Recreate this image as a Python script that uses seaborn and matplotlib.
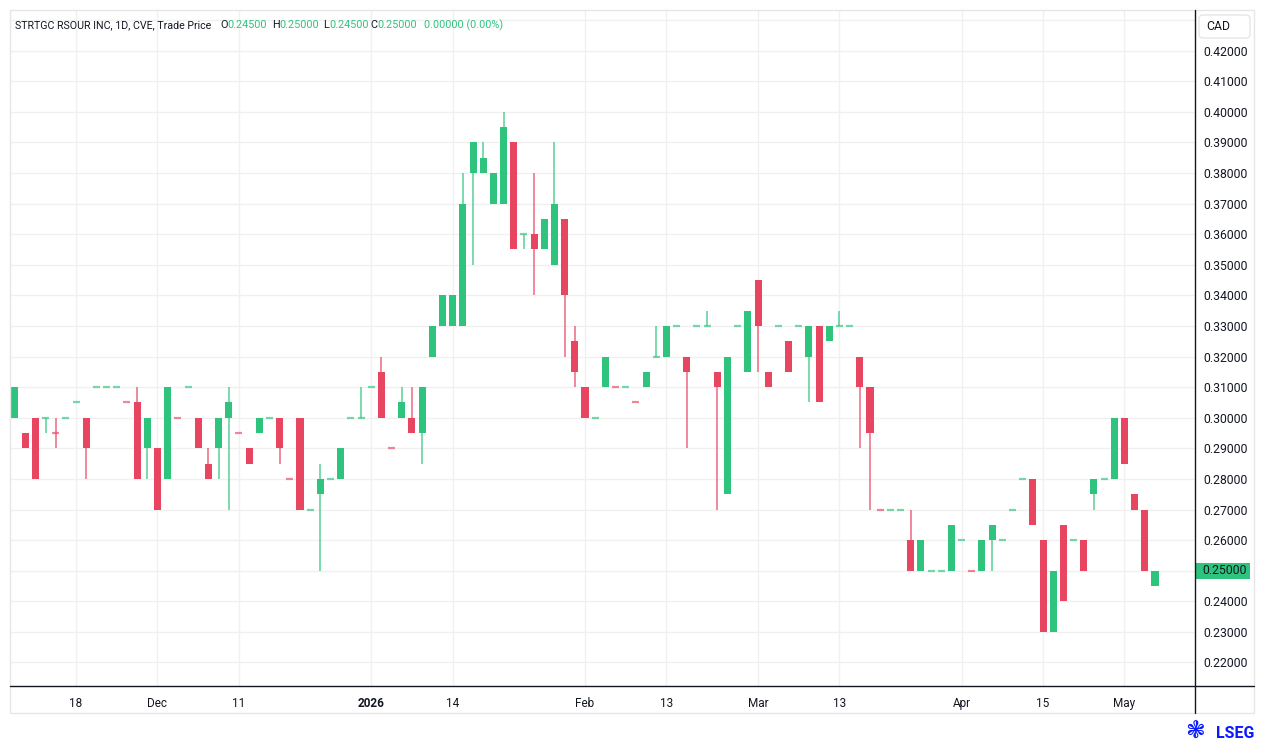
import numpy as np
import pandas as pd
import matplotlib
matplotlib.use("Agg")
import matplotlib.pyplot as plt
import matplotlib.transforms as mtransforms
from matplotlib.lines import Line2D
from matplotlib.patches import Rectangle, FancyBboxPatch
import seaborn as sns

# daily candles (CAD)
opens = [
    .30, .295, .30, .30, .295, .30, .305, .30, .31, .31,
    .31, .305, .305, .29, .29, .28, .30, .31, .30, .285,
    .29, .30, .295, .29, .295, .30, .30, .28, .30, .27,
    .275, .28, .28, .30, .30, .31, .315, .29, .30, .30,
    .295, .32, .33, .33, .33, .38, .38, .37, .37, .39,
    .36, .36, .355, .35, .365, .325, .31, .30, .31, .31,
    .31, .305, .31, .32, .32, .33, .32, .33, .33, .315,
    .275, .33, .315, .345, .315, .33, .325, .33, .32, .33,
    .325, .33, .33, .32, .31, .27, .27, .27, .26, .25,
    .25, .25, .25, .26, .25, .25, .26, .26, .27, .28,
    .28, .26, .23, .265, .26, .26, .275, .28, .28, .30,
    .275, .27, .245,
]
highs = [
    .31, .295, .30, .30, .30, .30, .305, .30, .31, .31,
    .31, .305, .31, .30, .29, .31, .30, .31, .30, .29,
    .30, .31, .295, .29, .30, .30, .30, .28, .30, .27,
    .285, .28, .29, .30, .31, .31, .32, .29, .31, .31,
    .31, .33, .34, .34, .38, .39, .39, .38, .40, .39,
    .36, .38, .365, .39, .365, .33, .31, .30, .32, .31,
    .31, .305, .315, .33, .33, .33, .32, .33, .335, .315,
    .32, .33, .335, .345, .315, .33, .325, .33, .33, .33,
    .33, .335, .33, .32, .31, .27, .27, .27, .27, .26,
    .25, .25, .265, .26, .25, .26, .265, .26, .27, .28,
    .28, .26, .25, .265, .26, .26, .28, .28, .30, .30,
    .275, .27, .25,
]
lows = [
    .30, .29, .28, .295, .29, .30, .305, .28, .31, .31,
    .31, .305, .28, .28, .27, .28, .30, .31, .29, .28,
    .28, .27, .295, .285, .295, .30, .285, .28, .27, .27,
    .25, .28, .28, .30, .30, .31, .30, .29, .30, .295,
    .285, .32, .33, .33, .33, .35, .38, .37, .37, .355,
    .355, .34, .355, .35, .32, .31, .30, .30, .31, .31,
    .31, .305, .31, .32, .32, .33, .29, .33, .33, .27,
    .275, .33, .315, .315, .31, .33, .315, .33, .305, .305,
    .325, .33, .33, .29, .27, .27, .27, .27, .25, .25,
    .25, .25, .25, .26, .25, .25, .25, .26, .27, .28,
    .265, .23, .23, .24, .26, .25, .27, .28, .28, .285,
    .27, .25, .245,
]
closes = [
    .31, .29, .28, .30, .295, .30, .305, .29, .31, .31,
    .31, .305, .28, .30, .27, .31, .30, .31, .29, .28,
    .30, .305, .295, .285, .30, .30, .29, .28, .27, .27,
    .28, .28, .29, .30, .30, .31, .30, .29, .305, .295,
    .31, .33, .34, .34, .37, .39, .385, .38, .395, .355,
    .36, .355, .365, .37, .34, .315, .30, .30, .32, .31,
    .31, .305, .315, .32, .33, .33, .315, .33, .33, .31,
    .32, .33, .335, .33, .31, .33, .315, .33, .33, .305,
    .33, .33, .33, .31, .295, .27, .27, .27, .25, .26,
    .25, .25, .265, .26, .25, .26, .265, .26, .27, .28,
    .265, .23, .25, .24, .26, .25, .28, .28, .30, .285,
    .27, .25, .25,
]
# flat candles that are drawn in red
red_flat = [4, 11, 16, 22, 27, 37, 59, 61, 85, 94]

tick_index = [6, 14, 22, 35, 43, 56, 64, 73, 81, 93, 101, 109]
tick_labels = ["18", "Dec", "11", "2026", "14", "Feb", "13", "Mar", "13", "Apr", "15", "May"]
price_ticks = [round(0.22 + 0.01 * i, 2) for i in range(21)]

GREEN = "#2ec47e"
RED = "#e84561"
TEXT = "#131722"
GRID = "#f0f0f0"
BLUE = "#0a1bff"

df = pd.DataFrame({"open": opens, "high": highs, "low": lows, "close": closes})
df["x"] = np.arange(len(df))
df["color"] = np.where(df["close"] > df["open"], GREEN, RED)
flat = df["close"] == df["open"]
df.loc[flat, "color"] = GREEN
df.loc[df.index.isin(red_flat), "color"] = RED

sns.set_theme(style="white")
plt.rcParams["font.family"] = ["Roboto", "DejaVu Sans"]

W, H = 1264, 744
fig = plt.figure(figsize=(W / 100, H / 100), dpi=100)
fig.patch.set_facecolor("white")


def fx(px):
    return px / W


def fy(py):
    return 1 - py / H


ax = fig.add_axes([fx(10), fy(686), fx(1195) - fx(10), fy(10) - fy(686)])
for s in ax.spines.values():
    s.set_visible(False)

# grid
for yv in price_ticks + [0.43]:
    ax.axhline(yv, color=GRID, lw=1, zorder=0)
for xv in tick_index:
    ax.axvline(xv, color=GRID, lw=1, zorder=0)

bw = 0.69
body = df[~flat]
doji = df[flat]

ax.vlines(df["x"], df["low"], df["high"], colors=df["color"], lw=1.1, alpha=0.8, zorder=2)
ax.bar(body["x"], (body["close"] - body["open"]).abs(),
       bottom=np.minimum(body["open"], body["close"]),
       width=bw, color=body["color"], edgecolor="none", zorder=3)
ax.hlines(doji["open"], doji["x"] - bw / 2, doji["x"] + bw / 2,
          colors=doji["color"], lw=1.6, alpha=0.65, zorder=3)

ax.set_xlim(-0.49, 115.93)
ax.set_ylim(0.21232, 0.43324)

ax.yaxis.tick_right()
ax.set_yticks(price_ticks)
ax.set_yticklabels([f"{v:.5f}" for v in price_ticks])
ax.tick_params(axis="y", length=0, pad=6, labelsize=8.8, labelcolor=TEXT)
for v, lab in zip(price_ticks, ax.get_yticklabels()):
    if abs(v - closes[-1]) < 1e-9:
        lab.set_visible(False)   # hidden under the price tag
ax.set_xticks(tick_index)
ax.set_xticklabels(tick_labels)
ax.tick_params(axis="x", length=0, pad=8, labelsize=8.5, labelcolor=TEXT)
for lab in ax.get_xticklabels():
    if lab.get_text() == "2026":
        lab.set_fontweight("bold")

# current price tag on the price scale
tag_tr = mtransforms.blended_transform_factory(fig.transFigure, ax.transData)
tag_h = 16 / 30.6 * 0.01
fig.add_artist(Rectangle((fx(1196), closes[-1] - tag_h / 2), fx(1250) - fx(1196), tag_h,
                         transform=tag_tr, fc=GREEN, ec="none", clip_on=False))
fig.text(fx(1202), closes[-1], f"{closes[-1]:.5f}", transform=tag_tr,
         ha="left", va="center", fontsize=8.8, color=TEXT)

# frame lines
fig.add_artist(Rectangle((fx(10), fy(713)), fx(1254) - fx(10), fy(10) - fy(713),
                         transform=fig.transFigure, fill=False, ec="#e6e6e6", lw=1))
fig.add_artist(Line2D([fx(1195), fx(1195)], [fy(10), fy(713)], transform=fig.transFigure,
                      color=TEXT, lw=1))
fig.add_artist(Line2D([fx(10), fx(1254)], [fy(686), fy(686)], transform=fig.transFigure,
                      color=TEXT, lw=1))

# CAD box (pixel coordinates)
pix = mtransforms.IdentityTransform()
fig.add_artist(FancyBboxPatch((1199, H - 38), 51, 23, boxstyle="round,pad=0,rounding_size=4",
                              transform=pix, fc="white", ec="#e6e6e6", lw=1))
fig.text(fx(1206), fy(27), "CAD", ha="left", va="center", fontsize=8.8, color=TEXT)

# header legend
yh = fy(25)
fig.text(fx(15), yh, "STRTGC RSOUR INC, 1D, CVE, Trade Price", ha="left", va="center",
         fontsize=7.7, color=TEXT)
parts = [(220, "O", TEXT), (227, f"{opens[-1]:.5f}", GREEN),
         (272, "H", TEXT), (279, f"{highs[-1]:.5f}", GREEN),
         (323, "L", TEXT), (329, f"{lows[-1]:.5f}", GREEN),
         (370, "C", TEXT), (377, f"{closes[-1]:.5f}", GREEN),
         (424, "0.00000 (0.00%)", GREEN)]
for px, txt, col in parts:
    fig.text(fx(px), yh, txt, ha="left", va="center", fontsize=7.8, color=col)

# LSEG mark
fig.text(fx(1195), fy(731), "\u2743", ha="center", va="center", fontsize=17,
         color=BLUE, family=["DejaVu Sans"])
fig.text(fx(1254), fy(733), "LSEG", ha="right", va="center", fontsize=11.5,
         fontweight="bold", color=BLUE)

fig.savefig("out.png", dpi=100)
